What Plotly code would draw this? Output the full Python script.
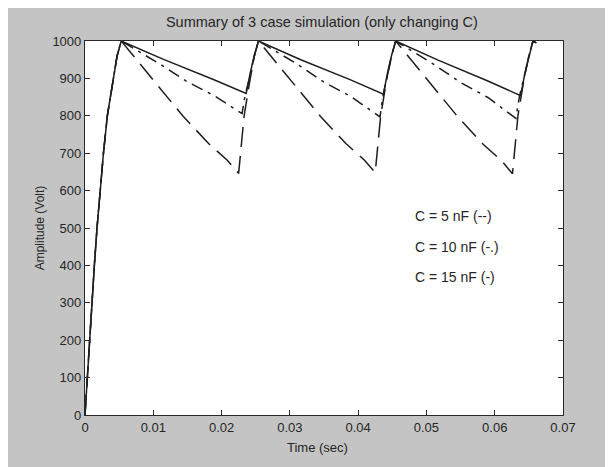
import plotly.graph_objects as go

# ---- data ----
charge_t = [0, 0.00034, 0.00063, 0.00098, 0.00137, 0.00176, 0.0022, 0.0027, 0.00327, 0.0041, 0.0047, 0.0053]
charge_v = [0, 100, 200, 300, 400, 500, 600, 700, 800, 900, 960, 1000]

# C = 5 nF (dashed)
t_5nF = charge_t + [0.0078, 0.0110, 0.0144, 0.0181, 0.0208, 0.0225,
                    0.02275, 0.0233, 0.0242, 0.0248, 0.0254,
                    0.0279, 0.0311, 0.0345, 0.0382, 0.0409, 0.0425,
                    0.04275, 0.0433, 0.0442, 0.0449, 0.0455,
                    0.0480, 0.0512, 0.0546, 0.0583, 0.0610, 0.0626,
                    0.06285, 0.0634, 0.0643, 0.0650, 0.0656, 0.0661]
v_5nF = charge_v + [945, 873, 798, 726, 682, 646,
                    700, 800, 900, 960, 1000,
                    945, 873, 798, 726, 682, 648,
                    700, 800, 900, 960, 1000,
                    945, 872, 797, 724, 680, 645,
                    700, 800, 900, 960, 1000, 995]

# C = 10 nF (dash-dot)
t_10nF = charge_t + [0.0110, 0.0149, 0.0188, 0.0230,
                     0.0234, 0.0242, 0.0248, 0.0254,
                     0.0311, 0.0350, 0.0389, 0.0432,
                     0.0436, 0.0443, 0.0449, 0.0455,
                     0.0512, 0.0551, 0.0590, 0.0631,
                     0.0636, 0.0644, 0.0650, 0.0656, 0.0661]
v_10nF = charge_v + [938, 892, 855, 806,
                     850, 910, 960, 1000,
                     938, 890, 852, 797,
                     850, 910, 960, 1000,
                     936, 888, 849, 793,
                     850, 910, 960, 1000, 995]

# C = 15 nF (solid)
t_15nF = charge_t + [0.0115, 0.0188, 0.0236,
                     0.0242, 0.0248, 0.0254,
                     0.0316, 0.0389, 0.0437,
                     0.0443, 0.0449, 0.0455,
                     0.0517, 0.0590, 0.0638,
                     0.0644, 0.0650, 0.0656, 0.0661]
v_15nF = charge_v + [951, 897, 860,
                     915, 962, 1000,
                     950, 896, 858,
                     915, 962, 1000,
                     949, 893, 854,
                     912, 960, 1000, 995]

x_ticks = [0, 0.01, 0.02, 0.03, 0.04, 0.05, 0.06, 0.07]
x_tick_labels = ["0", "0.01", "0.02", "0.03", "0.04", "0.05", "0.06", "0.07"]
y_ticks = [0, 100, 200, 300, 400, 500, 600, 700, 800, 900, 1000]
y_tick_labels = [str(v) for v in y_ticks]

legend_texts = ["C = 5 nF (--)", "C = 10 nF (-.)", "C = 15 nF (-)"]

INK = "#1e1e1e"
TXT = "#262626"
FONT = "Liberation Sans"

fig = go.Figure()
fig.add_trace(go.Scatter(x=t_5nF, y=v_5nF, mode="lines",
                         line=dict(color=INK, width=1.5, dash="20px,9px"),
                         showlegend=False, hoverinfo="skip"))
fig.add_trace(go.Scatter(x=t_10nF, y=v_10nF, mode="lines",
                         line=dict(color=INK, width=1.5, dash="12px,6px,3px,6px"),
                         showlegend=False, hoverinfo="skip"))
fig.add_trace(go.Scatter(x=t_15nF, y=v_15nF, mode="lines",
                         line=dict(color=INK, width=1.5),
                         showlegend=False, hoverinfo="skip"))

ann_y = [0.532, 0.450, 0.370]
for txt, yy in zip(legend_texts, ann_y):
    fig.add_annotation(text=txt, x=0.686, y=yy, xref="paper", yref="paper",
                       xanchor="left", yanchor="middle", showarrow=False,
                       font=dict(family=FONT, size=14, color=TXT))

# x-axis title placed slightly lower than Plotly's default
fig.add_annotation(text="Time (sec)", x=0.487, y=-0.086, xref="paper", yref="paper",
                   xanchor="center", yanchor="middle", showarrow=False,
                   font=dict(family=FONT, size=13, color=TXT))

axis_common = dict(showline=True, linecolor="#2a2a2a", linewidth=1.2, mirror="allticks",
                   ticks="inside", ticklen=5, tickwidth=1, tickcolor="#2a2a2a",
                   showgrid=False, zeroline=False,
                   tickfont=dict(family=FONT, size=13, color=TXT))

fig.update_layout(
    width=613, height=467,
    margin=dict(l=77, r=58, t=33, b=60),
    paper_bgcolor="#c4c4c4", plot_bgcolor="white",
    title=dict(text="Summary of 3 case simulation (only changing C)",
               x=0.512, xanchor="center", y=0.97, yanchor="middle",
               font=dict(family=FONT, size=14.5, color=TXT)),
    xaxis=dict(range=[0, 0.07], tickvals=x_ticks, ticktext=x_tick_labels,
               **axis_common),
    yaxis=dict(range=[0, 1000], tickvals=y_ticks, ticktext=y_tick_labels,
               title=dict(text="Amplitude (Volt)", standoff=5,
                          font=dict(family=FONT, size=12, color=TXT)),
               **axis_common),
)

fig.write_html("out.html")
